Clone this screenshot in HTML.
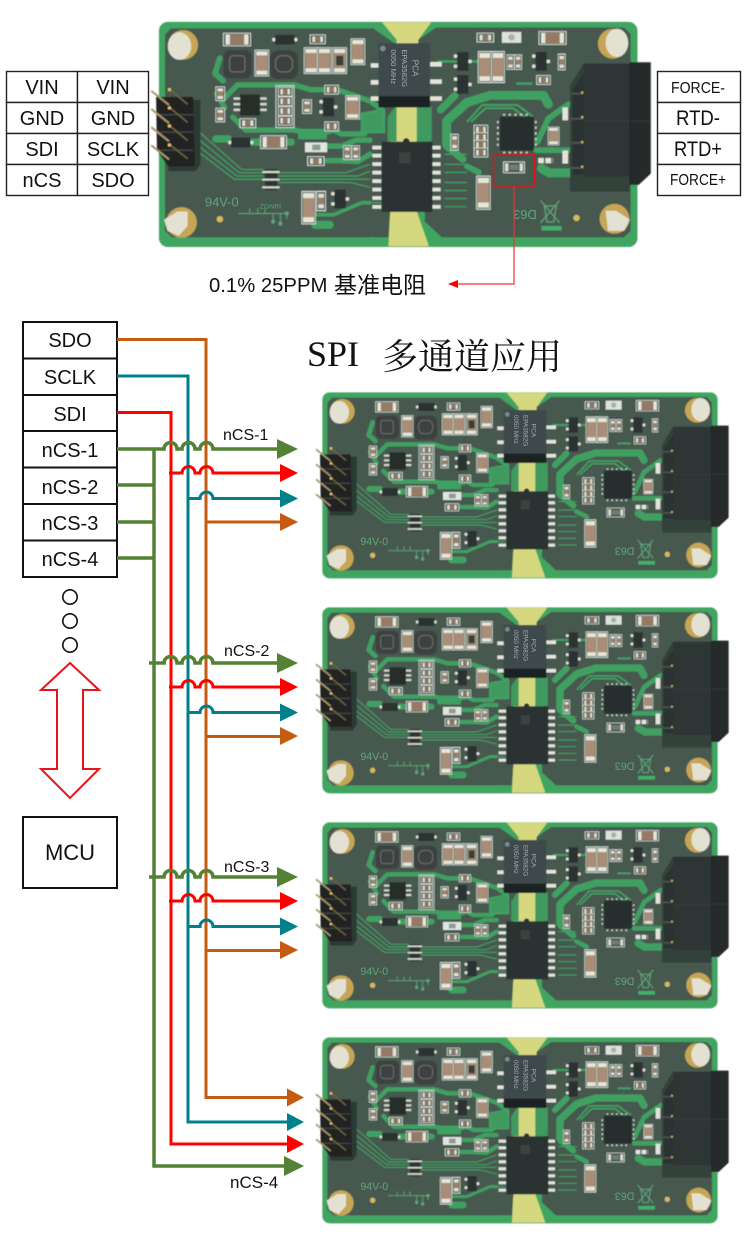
<!DOCTYPE html>
<html><head><meta charset="utf-8"><title>SPI</title>
<style>html,body{margin:0;padding:0;background:#fff}svg{display:block}
text{font-family:"Liberation Sans","Noto Sans CJK SC",sans-serif;fill:#111}
.silk{fill:#5fa47a}.mark{fill:#9aa3a0}</style></head>
<body>
<svg xmlns="http://www.w3.org/2000/svg" width="750" height="1241" viewBox="0 0 750 1241">
<defs>
<filter id="soft" x="-2%" y="-2%" width="104%" height="104%"><feGaussianBlur stdDeviation="1.3"/></filter>
<g id="cv"><rect x="-2" y="-2" width="34" height="64" fill="#46594e" stroke="#dfe6df" stroke-width="2"/><rect x="1" y="1" width="28" height="58" fill="#e6e6da"/><rect x="1" y="11" width="28" height="38" fill="#a98d76"/></g>
<g id="ch"><rect x="-2" y="-2" width="64" height="32" fill="#46594e" stroke="#dfe6df" stroke-width="2"/><rect x="3" y="1" width="54" height="26" fill="#e6e6da"/><rect x="13" y="1" width="34" height="26" fill="#967a66"/></g>
<g id="sc"><rect x="-2" y="-2" width="22" height="34" fill="#46594e" stroke="#dfe6df" stroke-width="2"/><rect x="2" y="2" width="14" height="26" fill="#e2e2d6"/><rect x="2" y="9" width="14" height="12" fill="#98806c"/></g>
<g id="sh"><rect x="-2" y="-2" width="34" height="22" fill="#46594e" stroke="#dfe6df" stroke-width="2"/><rect x="3" y="2" width="24" height="14" fill="#e2e2d6"/><rect x="9" y="2" width="12" height="14" fill="#8d7564"/></g>
<g id="di"><rect width="48" height="24" fill="#2a3230"/><rect x="-7" y="8" width="7" height="8" fill="#e4e4dc"/><rect x="48" y="8" width="7" height="8" fill="#e4e4dc"/></g>
<g id="sot"><rect width="28" height="46" fill="#2a3230"/><rect x="-8" y="6" width="8" height="8" fill="#e4e4dc"/><rect x="-8" y="31" width="8" height="8" fill="#e4e4dc"/><rect x="28" y="19" width="8" height="8" fill="#e4e4dc"/></g>
<g id="pn"><rect width="22" height="9" fill="#e4e6de"/></g>
<g id="board">
 <g filter="url(#soft)">
 <rect x="37" y="22" width="1186" height="558" rx="22" fill="#3fa560"/>
 <!-- yellow laminate -->
 <path d="M590 23H712L680 66V232L676 320V492L706 578H606L610 492V320L626 232V66Z" fill="#d6d880"/>
 <!-- solder mask -->
 <path d="M66 38H568L622 76V240L604 258V330L610 500L564 556H70L52 540V54Z" fill="#47594f"/>
 <path d="M724 36H1190L1206 52V540L1190 556H738L696 517V330L713 305 713 240 680 235V66Z" fill="#47594f"/>
 <path d="M622 232H626V318H604V258Z" fill="#3f9a5e"/><path d="M676 232H713V318H676Z" fill="#3f9a5e"/>
 <path d="M610 492H590L566 556H606Z" fill="#47594f"/>
 <!-- copper pours left -->
 <g fill="none" stroke="#40a062" stroke-linejoin="round" stroke-linecap="round">
  <path d="M188 112L176 150 196 168" stroke-width="14"/>
  <path d="M192 218L232 178H372L412 190H478L560 218 590 240 560 280" stroke-width="13"/>
  <path d="M180 200L200 235M220 258L252 290H372L400 296H450L470 290 490 300H545L590 262" stroke-width="13"/>
  <path d="M178 312H210M262 320H365" stroke-width="18"/>
  <path d="M455 330H490L525 315H560M452 366H490L530 368 560 350" stroke-width="13"/>
  <path d="M425 500L470 500 540 470H560" stroke-width="9"/>
  <path d="M425 525H460" stroke-width="20"/>
  <path d="M540 250L595 240V295H540Z" fill="#3f9a5e" stroke-width="6"/>
  <path d="M385 290H450V310H385Z" fill="#40a062" stroke-width="6"/>
 </g>
 <g fill="none" stroke="#3fa263" stroke-width="3">
  <path d="M128 287L242 388H296M122 302L236 396H296M120 318L230 404H296M120 333L224 412H296M333 396H500L560 375M333 404H530L560 392M333 412H520L560 412M333 420H512L560 432"/>
  <path d="M595 470H545M745 350H800M745 375H800M745 395H800M745 420H800M745 440H800M745 460H800M745 480H800"/>
 </g>
 <!-- copper pours right -->
 <g fill="none" stroke="#40a062" stroke-linejoin="round" stroke-linecap="round">
  <path d="M750 325V268L800 222 858 204H990L1002 226" stroke-width="22"/>
  <path d="M750 330L790 362M735 240L770 205" stroke-width="18"/>
  <path d="M802 268L838 228H925L962 255M812 268L846 236H915L950 262" stroke-width="5"/>
  <path d="M975 320L1002 262 1052 226H1088M972 340H1088" stroke-width="14"/>
  <path d="M985 385L1004 396H1085" stroke-width="22"/>
  <path d="M800 380L830 395" stroke-width="14"/>
  <path d="M730 120H780M800 120H830M925 175H960" stroke-width="6"/>
 </g>
 <!-- standoffs -->
 <circle cx="97" cy="79" r="37" fill="#c6a654"/><ellipse cx="88" cy="82" rx="29" ry="34" fill="#e3e2d2"/>
 <circle cx="1162" cy="76" r="37" fill="#c6a654"/><ellipse cx="1172" cy="74" rx="28" ry="35" fill="#e3e2d2"/>
 <circle cx="93" cy="519" r="38" fill="#c6a654"/><path d="M50 512L82 492 108 492 108 528 86 552 58 540Z" fill="#e3e2d2"/>
 <circle cx="1166" cy="510" r="37" fill="#c6a654"/><path d="M1144 490H1170L1204 512 1190 540 1150 540Z" fill="#e3e2d2"/>
 <circle cx="188" cy="511" r="8" fill="#d8b860"/><circle cx="1072" cy="508" r="8" fill="#d8b860"/>
 <!-- inductors -->
 <rect x="197" y="92" width="70" height="70" rx="16" fill="#3d4341"/><rect x="212" y="106" width="38" height="40" rx="8" fill="none" stroke="#6a6e6c" stroke-width="3"/>
 <rect x="312" y="92" width="70" height="72" rx="20" fill="#3d4341"/><rect x="326" y="106" width="42" height="40" rx="15" fill="none" stroke="#6a6e6c" stroke-width="3"/>
 <!-- top-left passives -->
 <use href="#ch" transform="translate(199 52) scale(1.05 .98)"/><use href="#di" x="325" y="54"/><use href="#sh" transform="translate(414 56) scale(1.1 1)"/>
 <use href="#cv" transform="translate(277 94) scale(1 1)"/><use href="#cv" x="399" y="88"/><use href="#cv" x="432" y="88"/><use href="#cv" x="470" y="88"/>
 <rect x="476" y="106" width="18" height="24" fill="#36403e"/>
 <use href="#cv" x="515" y="66"/>
 <use href="#sc" x="180" y="185"/><use href="#sc" x="180" y="238"/>
 <rect x="238" y="202" width="50" height="52" fill="#252d2c"/>
 <path d="M222 212H238M222 226H238M222 240H238M288 212H304M288 226H304M288 240H304" stroke="#d8d8cf" stroke-width="6"/>
 <rect x="327" y="180" width="45" height="104" fill="none" stroke="#dfe6df" stroke-width="2"/>
 <use href="#sh" x="335" y="186"/><use href="#sh" x="335" y="210"/><use href="#sh" x="335" y="234"/><use href="#sh" x="335" y="258"/>
 <use href="#sc" x="395" y="217"/>
 <use href="#sot" x="443" y="210"/><use href="#sh" x="450" y="181"/><use href="#sh" x="450" y="272"/>
 <use href="#cv" transform="translate(502 207) scale(1 .9)"/>
 <use href="#sh" transform="translate(240 264) scale(1.15 1)"/><use href="#di" x="216" y="309"/><use href="#ch" x="291" y="306"/>
 <rect x="399" y="321" width="55" height="24" fill="#e2e5df"/><rect x="417" y="326" width="20" height="14" fill="#8f9a93"/>
 <use href="#sh" transform="translate(408 358) scale(1.2 1)"/>
 <use href="#sc" transform="translate(496 331) scale(.85 1)"/><use href="#sc" transform="translate(517 331) scale(.85 1)"/>
 <rect x="300" y="387" width="30" height="52" fill="#2c3533"/>
 <path d="M293 394H336M293 413H336M293 432H336" stroke="#d8d8ce" stroke-width="5"/>
 <use href="#cv" transform="translate(393 445) scale(1 1.25)"/><use href="#sc" transform="translate(430 445) scale(1 1.4)"/><use href="#sot" x="472" y="438"/>
 <!-- header -->
 <path d="M118 215H140V375L128 392H60V380H118Z" fill="#2b3a34"/>
 <path d="M30 208H122L126 380H60L32 340Z" fill="#202423"/>
 <path d="M36 252H122M36 295H122M36 340H122" stroke="#3e4442" stroke-width="4"/>
 <path d="M18 193L62 228M18 238L62 273M18 283L62 318M18 328L62 363" stroke="#a8946a" stroke-width="5"/>
 <path d="M62 188L108 226M62 233L108 271M62 278L108 316M62 325L108 361" stroke="#6f6440" stroke-width="4"/>
 <circle cx="63" cy="190" r="4" fill="#e6c66a"/><circle cx="63" cy="235" r="4" fill="#e6c66a"/><circle cx="63" cy="280" r="4" fill="#e6c66a"/><circle cx="63" cy="327" r="4" fill="#e6c66a"/>
 <!-- transformer -->
 <path d="M562 130H582M562 172H582M562 212H582M709 127H738M709 170H738M709 212H738" stroke="#e4e4dc" stroke-width="11"/>
 <rect x="581" y="75" width="128" height="134" fill="#3d484c"/>
 <rect x="581" y="206" width="128" height="28" fill="#1d2423"/>
 <circle cx="592" cy="88" r="7" fill="#7c8a90"/>
 <!-- main IC -->
 <use href="#pn" x="566" y="329"/><use href="#pn" x="566" y="349"/><use href="#pn" x="566" y="370"/><use href="#pn" x="566" y="391"/><use href="#pn" x="566" y="412"/><use href="#pn" x="566" y="433"/><use href="#pn" x="566" y="454"/><use href="#pn" x="566" y="476"/>
 <use href="#pn" x="713" y="329"/><use href="#pn" x="713" y="349"/><use href="#pn" x="713" y="370"/><use href="#pn" x="713" y="391"/><use href="#pn" x="713" y="412"/><use href="#pn" x="713" y="433"/><use href="#pn" x="713" y="454"/><use href="#pn" x="713" y="476"/>
 <rect x="589" y="319" width="126" height="174" fill="#2a3332"/>
 <circle cx="650" cy="318" r="8" fill="#2a3332"/>
 <rect x="632" y="345" width="28" height="28" fill="#3a4241"/>
 <!-- right passives -->
 <use href="#sot" x="776" y="97"/><use href="#sot" x="776" y="154"/>
 <use href="#cv" transform="translate(830 98) scale(.95 1.2)"/><use href="#cv" transform="translate(863 98) scale(.95 1.2)"/>
 <use href="#sh" transform="translate(828 52) scale(1.2 1)"/><rect x="887" y="47" width="48" height="27" fill="#dde2dc"/><circle cx="911" cy="60" r="8" fill="#a7b3a9"/>
 <use href="#ch" transform="translate(981 48) scale(1.05 1)"/>
 <use href="#sc" transform="translate(901 106) scale(.8 1.05)"/><use href="#sc" transform="translate(920 106) scale(.8 1.05)"/><use href="#sot" x="970" y="97"/><use href="#sc" transform="translate(1028 104) scale(.8 1.15)"/>
 <use href="#sh" x="975" y="157"/>
 <!-- QFN -->
 <rect x="882" y="257" width="84" height="84" rx="2" fill="#272d2f"/>
 <path d="M890 252H960M890 346H960M877 268V335M971 268V335" stroke="#dde0d8" stroke-width="4" stroke-dasharray="5 9"/>
 <use href="#sh" x="820" y="280"/><use href="#sh" x="820" y="299"/><use href="#sh" x="820" y="318"/><use href="#sh" x="820" y="337"/>
 <use href="#sc" transform="translate(762 303) scale(.85 1.15)"/>
 <use href="#cv" transform="translate(1003 284) scale(.8 .7)"/>
 <path d="M977 366H1014" stroke="#e4e4dc" stroke-width="13" stroke-dasharray="14 4"/>
 <rect x="1037" y="234" width="14" height="32" fill="#e4e4dc"/><rect x="1037" y="341" width="14" height="32" fill="#e4e4dc"/>
 <rect x="891" y="369" width="52" height="27" fill="#46594e" stroke="#dfe6df" stroke-width="2"/><rect x="895" y="373" width="8" height="19" fill="#e0e0d6"/><rect x="931" y="373" width="8" height="19" fill="#e0e0d6"/><rect x="906" y="376" width="22" height="13" fill="#707f74"/>
 <use href="#cv" transform="translate(826 407) scale(1 1.28)"/>
 <path d="M983 465L1030 520M1030 465L983 520M992 478H1022L1015 518H999Z" fill="none" stroke="#5fa47a" stroke-width="3"/>
 <rect x="985" y="528" width="50" height="11" fill="#3fb06a"/>
 <!-- terminal block -->
 <path d="M1056 180L1089 125V405H1204V443H1056Z" fill="#33423a"/>
 <path d="M1062 190L1089 150V400H1062Z" fill="#2a3032"/>
 <rect x="1089" y="125" width="116" height="281" fill="#2f3436"/>
 <path d="M1205 122H1256V398L1226 426H1205Z" fill="#27292b"/>
 <path d="M1089 268H1256" stroke="#3a3f42" stroke-width="2"/><path d="M1205 122V426" stroke="#17191a" stroke-width="2"/>
 <path d="M1058 200H1089M1058 262H1089M1058 322H1089M1058 384H1089" stroke="#4d5350" stroke-width="5"/>
 <circle cx="1086" cy="197" r="3" fill="#d8b860"/><circle cx="1086" cy="258" r="3" fill="#d8b860"/><circle cx="1086" cy="320" r="3" fill="#d8b860"/><circle cx="1086" cy="381" r="3" fill="#d8b860"/>
 <!-- ZGNRI tree -->
 <path d="M234 497H354M262 497V484M282 497V484M300 497V484M320 497V515M338 497V520M354 497V510" stroke="#5fa47a" stroke-width="2.5"/>
 <circle cx="320" cy="517" r="5" fill="#5fa47a"/><circle cx="338" cy="522" r="5" fill="#5fa47a"/><circle cx="354" cy="497" r="5" fill="#5fa47a"/>
 </g>
</g>
</defs>

<rect width="750" height="1241" fill="#fff"/>

<!-- boards -->
<g transform="translate(144 13) scale(.4035)"><use href="#board"/>
 <text x="151" y="480" font-size="32" class="silk" style="fill:#5fa47a">94V-0</text>
 <text x="944" y="510" font-size="32" text-anchor="middle" style="fill:#5fa47a" transform="rotate(180 944 499)">D63</text>
 <text x="287" y="484" font-size="17" style="fill:#5fa47a">ZGNRI</text>
 <g transform="translate(665 90) rotate(90)"><text x="26" y="0" font-size="20" style="fill:#a4adac">PCA</text><text x="0" y="25" font-size="19" style="fill:#a4adac">EPA3582G</text><text x="0" y="53" font-size="19" style="fill:#a4adac">0050 MHz</text></g></g>
<g transform="translate(310 385) scale(.3333)"><use href="#board"/><text x="151" y="480" font-size="32" style="fill:#5fa47a">94V-0</text><text x="944" y="510" font-size="32" text-anchor="middle" style="fill:#5fa47a" transform="rotate(180 944 499)">D63</text><g transform="translate(665 90) rotate(90)"><text x="26" y="0" font-size="20" style="fill:#a4adac">PCA</text><text x="0" y="25" font-size="19" style="fill:#a4adac">EPA3582G</text><text x="0" y="53" font-size="19" style="fill:#a4adac">0050 MHz</text></g></g>
<g transform="translate(310 600) scale(.3333)"><use href="#board"/><text x="151" y="480" font-size="32" style="fill:#5fa47a">94V-0</text><text x="944" y="510" font-size="32" text-anchor="middle" style="fill:#5fa47a" transform="rotate(180 944 499)">D63</text><g transform="translate(665 90) rotate(90)"><text x="26" y="0" font-size="20" style="fill:#a4adac">PCA</text><text x="0" y="25" font-size="19" style="fill:#a4adac">EPA3582G</text><text x="0" y="53" font-size="19" style="fill:#a4adac">0050 MHz</text></g></g>
<g transform="translate(310 815) scale(.3333)"><use href="#board"/><text x="151" y="480" font-size="32" style="fill:#5fa47a">94V-0</text><text x="944" y="510" font-size="32" text-anchor="middle" style="fill:#5fa47a" transform="rotate(180 944 499)">D63</text><g transform="translate(665 90) rotate(90)"><text x="26" y="0" font-size="20" style="fill:#a4adac">PCA</text><text x="0" y="25" font-size="19" style="fill:#a4adac">EPA3582G</text><text x="0" y="53" font-size="19" style="fill:#a4adac">0050 MHz</text></g></g>
<g transform="translate(310 1030) scale(.3333)"><use href="#board"/><text x="151" y="480" font-size="32" style="fill:#5fa47a">94V-0</text><text x="944" y="510" font-size="32" text-anchor="middle" style="fill:#5fa47a" transform="rotate(180 944 499)">D63</text><g transform="translate(665 90) rotate(90)"><text x="26" y="0" font-size="20" style="fill:#a4adac">PCA</text><text x="0" y="25" font-size="19" style="fill:#a4adac">EPA3582G</text><text x="0" y="53" font-size="19" style="fill:#a4adac">0050 MHz</text></g></g>

<!-- top left table -->
<g fill="#fff" stroke="#222" stroke-width="1.4">
 <rect x="6.5" y="71.5" width="71" height="31"/><rect x="77.5" y="71.5" width="71" height="31"/>
 <rect x="6.5" y="102.5" width="71" height="31"/><rect x="77.5" y="102.5" width="71" height="31"/>
 <rect x="6.5" y="133.5" width="71" height="31"/><rect x="77.5" y="133.5" width="71" height="31"/>
 <rect x="6.5" y="164.5" width="71" height="31"/><rect x="77.5" y="164.5" width="71" height="31"/>
 <rect x="657.5" y="71.5" width="83" height="31"/><rect x="657.5" y="102.5" width="83" height="31"/><rect x="657.5" y="133.5" width="83" height="31"/><rect x="657.5" y="164.5" width="83" height="31"/>
</g>
<g font-size="20" text-anchor="middle">
 <text x="42" y="94">VIN</text><text x="113" y="94">VIN</text>
 <text x="42" y="125">GND</text><text x="113" y="125">GND</text>
 <text x="42" y="156">SDI</text><text x="113" y="156">SCLK</text>
 <text x="42" y="187">nCS</text><text x="113" y="187">SDO</text>
 <text x="698" y="93" font-size="15.5" textLength="54" lengthAdjust="spacingAndGlyphs">FORCE-</text>
 <text x="698" y="125" font-size="21" textLength="44" lengthAdjust="spacingAndGlyphs">RTD-</text>
 <text x="698" y="156" font-size="21" textLength="48" lengthAdjust="spacingAndGlyphs">RTD+</text>
 <text x="698" y="185" font-size="15.5" textLength="56" lengthAdjust="spacingAndGlyphs">FORCE+</text>
</g>

<!-- precision resistor callout -->
<rect x="493.5" y="155" width="41" height="31" fill="none" stroke="#d81818" stroke-width="1.6"/>
<path d="M514 186V284H456" fill="none" stroke="#f03030" stroke-width="1.2"/>
<polygon points="448,284 458,280 458,288" fill="#f00"/>
<text x="209" y="292" font-size="20.3">0.1% 25PPM</text>
<text x="334" y="293" font-size="23">基准电阻</text>

<!-- title -->
<text x="307" y="366" font-size="36" style="font-family:'Liberation Serif',serif">SPI</text>
<text x="382" y="369" font-size="36" style="font-family:'Liberation Serif','Noto Serif CJK SC',serif">多通道应用</text>

<!-- left stack -->
<rect x="23" y="322" width="94" height="255" fill="#fff" stroke="#111" stroke-width="2"/>
<path d="M23 358.5H117M23 395H117M23 431H117M23 467.5H117M23 504H117M23 540.5H117" stroke="#111" stroke-width="2"/>
<g font-size="20" text-anchor="middle">
 <text x="70" y="347">SDO</text><text x="70" y="384">SCLK</text><text x="70" y="421">SDI</text>
 <text x="70" y="457">nCS-1</text><text x="70" y="494">nCS-2</text><text x="70" y="530">nCS-3</text><text x="70" y="566">nCS-4</text>
</g>
<g fill="none" stroke="#111" stroke-width="1.6"><circle cx="70" cy="597" r="7.2"/><circle cx="70" cy="621" r="7.2"/><circle cx="70" cy="645" r="7.2"/></g>
<polygon points="70,663 99,690 83,690 83,769 99,769 70,798 41,769 57,769 57,690 41,690" fill="#fff" stroke="#e8141c" stroke-width="2"/>
<rect x="23" y="817" width="94" height="71" fill="#fff" stroke="#111" stroke-width="2"/>
<text x="70" y="860" font-size="22" text-anchor="middle">MCU</text>

<!-- main buses -->
<g fill="none" stroke-width="3">
 <path d="M117 339.5H206V1097.5H288" stroke="#c55a11"/>
 <path d="M117 376H188V1122H288" stroke="#00808a"/>
 <path d="M117 412.5H171V1144H288" stroke="#f00"/>
 <path d="M154 449V1166H285" stroke="#548235" stroke-width="3.5"/>
 <path d="M117 485H154M117 522H154M117 558H154" stroke="#548235" stroke-width="3.5"/>
</g>
<g><polygon points="287,1088.5 304,1097.5 287,1106.5" fill="#c55a11"/><polygon points="287,1113 304,1122 287,1131" fill="#00808a"/><polygon points="287,1135 304,1144 287,1153" fill="#f00"/><polygon points="284,1156 304,1166 284,1176" fill="#548235"/></g>

<!-- channel 1 -->
<g fill="none" stroke-width="3">
 <path d="M117 449H164a6.5 6.5 0 0 1 13 0H182a6.5 6.5 0 0 1 13 0H200a6.5 6.5 0 0 1 13 0H278" stroke="#548235" stroke-width="3.5"/>
 <path d="M169 473H182a6.5 6.5 0 0 1 13 0H200a6.5 6.5 0 0 1 13 0H282" stroke="#f00"/>
 <path d="M187 498.5H200a6.5 6.5 0 0 1 13 0H282" stroke="#00808a"/>
 <path d="M206 522H282" stroke="#c55a11"/>
 <polygon points="277,439 298,449 277,459" fill="#548235" stroke="none"/>
 <polygon points="280,464 298,473 280,482" fill="#f00" stroke="none"/>
 <polygon points="280,489.5 298,498.5 280,507.5" fill="#00808a" stroke="none"/>
 <polygon points="280,513 298,522 280,531" fill="#c55a11" stroke="none"/>
</g>
<!-- channel 2 -->
<g fill="none" stroke-width="3" transform="translate(0 214)">
 <path d="M149 449H164a6.5 6.5 0 0 1 13 0H182a6.5 6.5 0 0 1 13 0H200a6.5 6.5 0 0 1 13 0H278" stroke="#548235" stroke-width="3.5"/>
 <path d="M169 473H182a6.5 6.5 0 0 1 13 0H200a6.5 6.5 0 0 1 13 0H282" stroke="#f00"/>
 <path d="M187 498.5H200a6.5 6.5 0 0 1 13 0H282" stroke="#00808a"/>
 <path d="M206 522.5H282" stroke="#c55a11"/>
 <polygon points="277,439 298,449 277,459" fill="#548235" stroke="none"/>
 <polygon points="280,464 298,473 280,482" fill="#f00" stroke="none"/>
 <polygon points="280,489.5 298,498.5 280,507.5" fill="#00808a" stroke="none"/>
 <polygon points="280,513 298,522 280,531" fill="#c55a11" stroke="none"/>
</g>
<!-- channel 3 -->
<g fill="none" stroke-width="3" transform="translate(0 428)">
 <path d="M149 449H164a6.5 6.5 0 0 1 13 0H182a6.5 6.5 0 0 1 13 0H200a6.5 6.5 0 0 1 13 0H278" stroke="#548235" stroke-width="3.5"/>
 <path d="M169 473H182a6.5 6.5 0 0 1 13 0H200a6.5 6.5 0 0 1 13 0H282" stroke="#f00"/>
 <path d="M187 498.5H200a6.5 6.5 0 0 1 13 0H282" stroke="#00808a"/>
 <path d="M206 522.5H282" stroke="#c55a11"/>
 <polygon points="277,439 298,449 277,459" fill="#548235" stroke="none"/>
 <polygon points="280,464 298,473 280,482" fill="#f00" stroke="none"/>
 <polygon points="280,489.5 298,498.5 280,507.5" fill="#00808a" stroke="none"/>
 <polygon points="280,513 298,522 280,531" fill="#c55a11" stroke="none"/>
</g>
<g font-size="16">
 <text x="223" y="440">nCS-1</text><text x="224" y="656">nCS-2</text><text x="224" y="872">nCS-3</text><text x="230" y="1188" font-size="17">nCS-4</text>
</g>
</svg>
</body></html>
